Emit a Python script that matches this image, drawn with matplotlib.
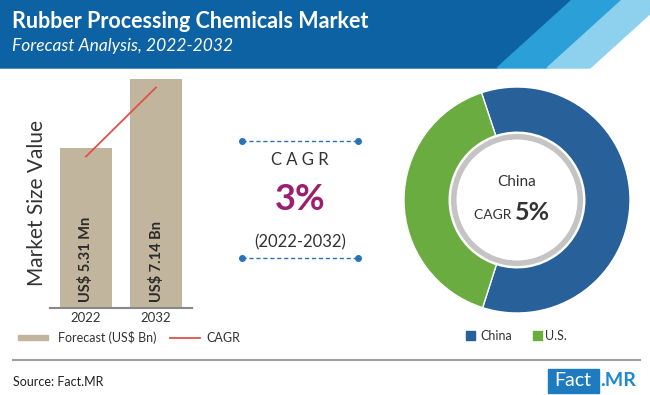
import matplotlib.pyplot as plt
from matplotlib.patches import Polygon, Circle, Rectangle

plt.rcParams['font.family'] = ['Lato', 'DejaVu Sans']

# Data
years = ['2022', '2032']
market_value = [5.31, 7.14]
bar_labels = ['US$ 5.31 Mn', 'US$ 7.14 Bn']
cagr_line = [5.08, 6.92]
regions = ['China', 'U.S.']
region_share = [60, 40]
region_colors = ['#28609a', '#6aac3f']
bar_color = '#c1b69d'

W, H = 650, 395
fig = plt.figure(figsize=(6.5, 3.95), dpi=100)

# background / decoration layer in pixel coords
bg = fig.add_axes([0, 0, 1, 1])
bg.set_xlim(0, W)
bg.set_ylim(H, 0)
bg.axis('off')

bg.add_patch(Polygon([(0, 0), (572, 0), (497, 68), (0, 68)], color='#0d62a3'))
bg.add_patch(Polygon([(572, 0), (622, 0), (547, 68), (497, 68)], color='#2a9fd8'))
bg.add_patch(Polygon([(622, 0), (665, 0), (590, 68), (547, 68)], color='#8dd1ee'))

bg.text(12, 21, 'Rubber Processing Chemicals Market', color='white', fontsize=15.5,
        fontweight='bold', va='center', ha='left')
bg.text(12, 46, 'Forecast Analysis, 2022-2032', color='white', fontsize=12.5,
        style='italic', va='center', ha='left')

# CAGR block
for y in (141, 258):
    bg.plot([242, 358], [y, y], color='#2b72b8', lw=1, ls=(0, (3, 2)))
    bg.plot([242, 358], [y, y], 'o', color='#2b72b8', ms=4)
bg.text(300, 160, 'C A G R', fontsize=12, ha='center', va='center', color='#333333')
bg.text(300, 200, '3%', fontsize=26, fontweight='bold', ha='center', va='center',
        color='#9c1f6f')
bg.text(300, 242, '(2022-2032)', fontsize=12, ha='center', va='center', color='#333333')

# footer
bg.plot([13, 640], [360, 360], color='#a0a0a0', lw=1.5)
bg.text(13, 382, 'Source: Fact.MR', fontsize=9, ha='left', va='center', color='#222222')
bg.add_patch(Rectangle((548, 369), 51, 24, color='#1f7bbf'))
bg.text(573, 381, 'Fact', fontsize=14, color='white', ha='center', va='center')
bg.text(600, 381, '.MR', fontsize=14, color='#1f88d0', ha='left', va='center',
        fontweight='bold')

# bar chart
ax = fig.add_axes([50 / W, 1 - 308 / H, 142 / W, (308 - 75) / H])
x = [0, 1]
ax.bar(x, market_value, width=0.74, color=bar_color, bottom=0)
ax.plot(x, cagr_line, color='#e0504a', lw=1.3)
ax.set_xlim(-0.514, 1.514)
ax.set_ylim(1.05, 7.25)
ax.set_xticks(x)
ax.set_xticklabels(years, fontsize=9.5, color='#333333')
ax.tick_params(axis='x', length=0, pad=3)
ax.set_yticks([])
for s in ['top', 'right', 'left']:
    ax.spines[s].set_visible(False)
ax.spines['bottom'].set_color('#888888')
ax.spines['bottom'].set_linewidth(1.5)
for xi, lab in zip(x, bar_labels):
    ax.text(xi, 1.2, lab, rotation=90, ha='center', va='bottom', fontsize=10.5,
            fontweight='bold', color='#2a2a2a')
bg.text(37, 203, 'Market Size Value', rotation=90, fontsize=15, ha='center',
        va='center', color='#333333')

# bar legend
bg.add_patch(Rectangle((18, 335), 30, 5, color=bar_color))
bg.text(58, 338, 'Forecast (US$ Bn)', fontsize=9, va='center', color='#333333')
bg.plot([170, 200], [338, 338], color='#e0504a', lw=1.3)
bg.text(206, 338, 'CAGR', fontsize=9, va='center', color='#333333')

# donut
pax = fig.add_axes([404 / W, 1 - 313 / H, 226 / W, 226 / H])
pax.pie(region_share, colors=region_colors, startangle=108.3, counterclock=False,
        radius=1, wedgeprops=dict(width=0.4, edgecolor='white', linewidth=1))
pax.add_patch(Circle((0, 0), 0.56, facecolor='white', edgecolor='#c4c4c4', lw=4))
pax.set_xlim(-1, 1)
pax.set_ylim(-1, 1)
pax.set_aspect('equal')
pax.text(0, 0.16, 'China', fontsize=11, ha='center', va='center', color='#333333')
pax.text(-0.02, -0.13, 'CAGR ', fontsize=10, ha='right', va='center', color='#333333')
pax.text(-0.02, -0.11, '5%', fontsize=18, ha='left', va='center', color='#333333',
         fontweight='bold')

# donut legend
for (sx, tx), name, c in zip([(466, 480), (533, 545)], regions, region_colors):
    bg.add_patch(Rectangle((sx, 331), 9, 9, color=c))
    bg.text(tx, 336, name, fontsize=9, va='center', color='#333333')

fig.savefig('out.png', dpi=100)
